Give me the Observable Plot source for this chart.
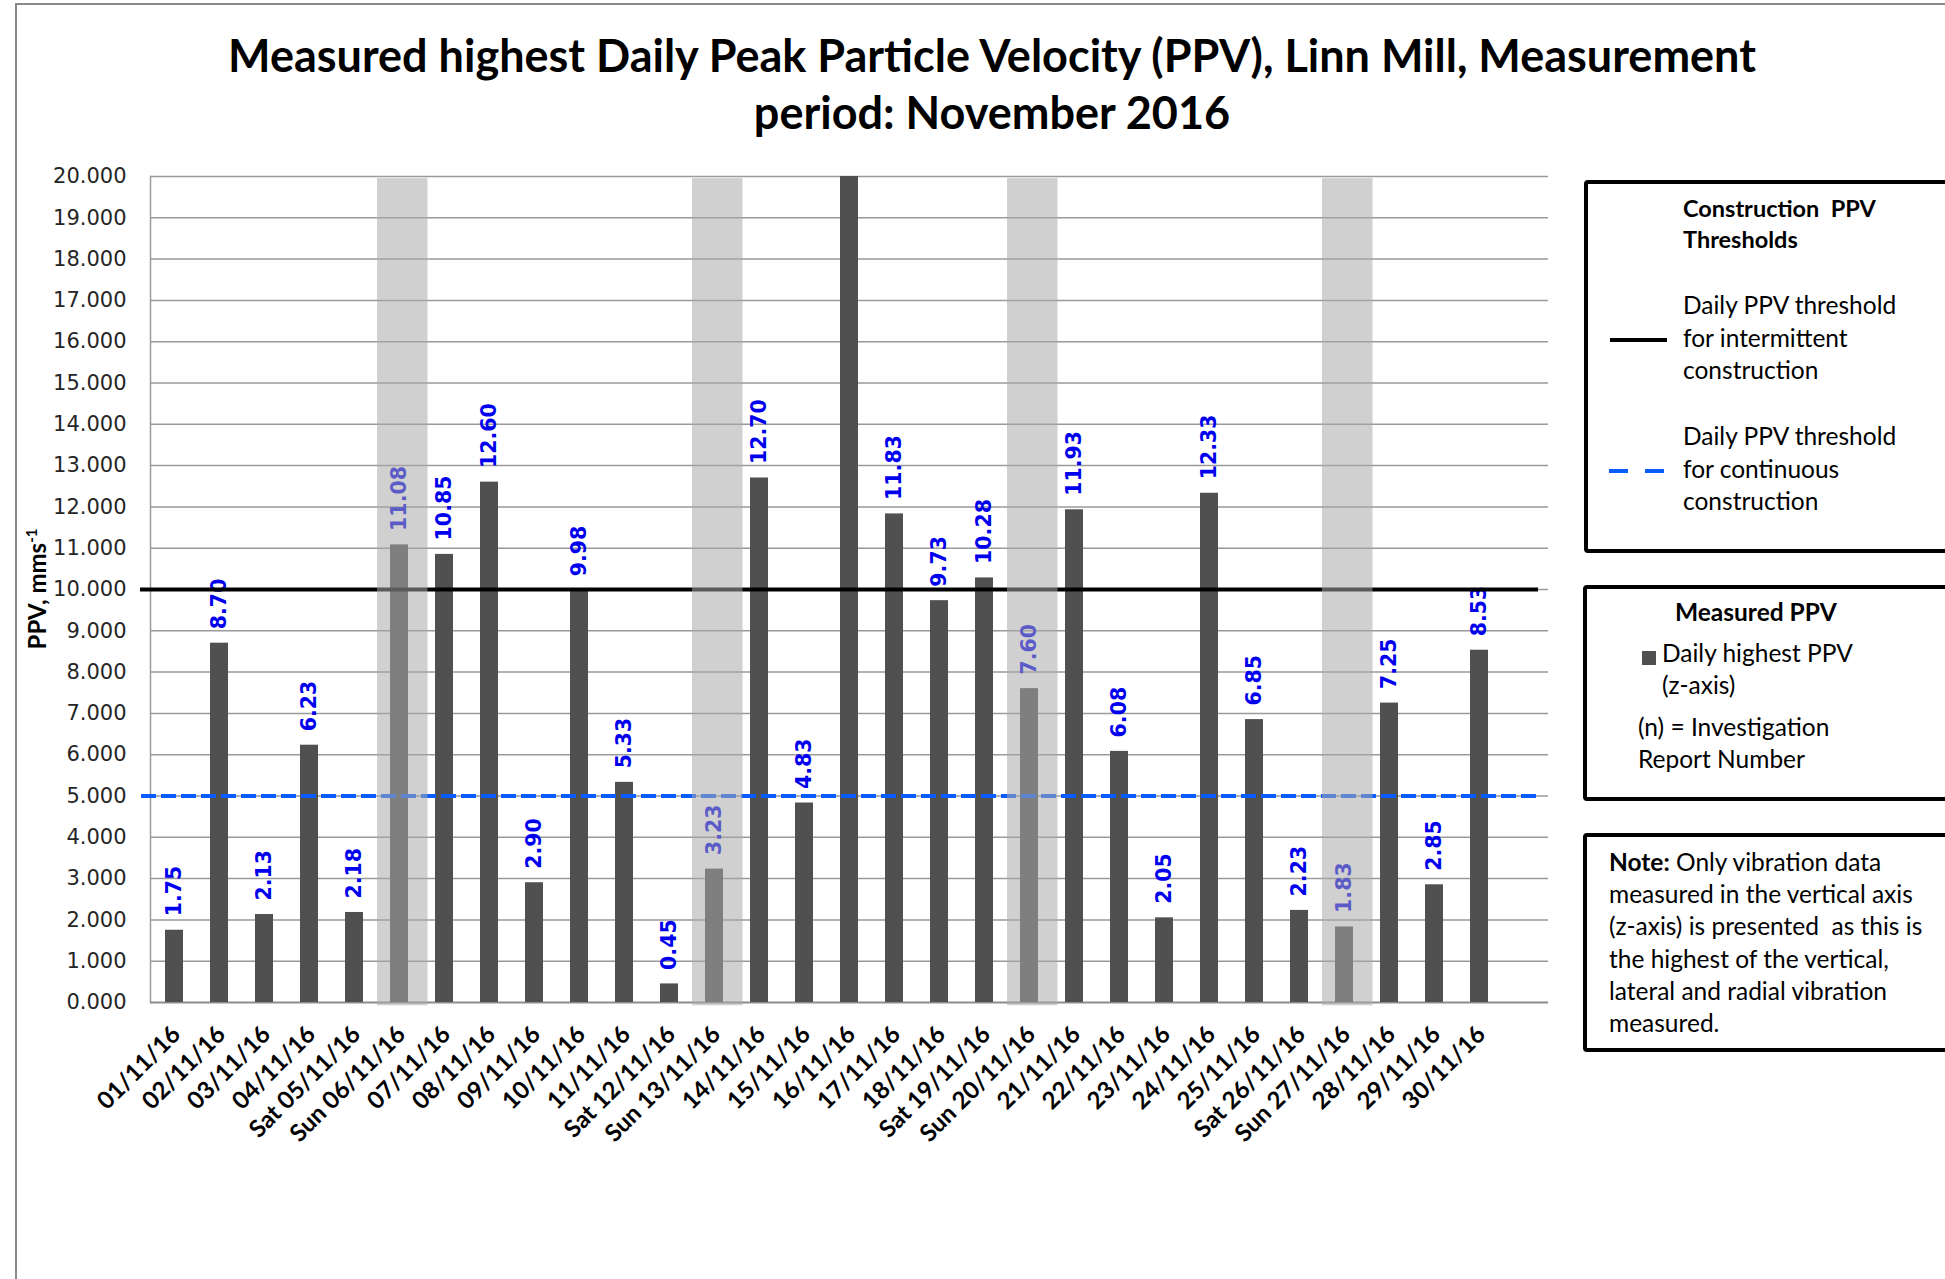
<!DOCTYPE html>
<html>
<head>
<meta charset="utf-8">
<script src="https://cdn.jsdelivr.net/npm/d3@7"></script>
<script src="https://cdn.jsdelivr.net/npm/@observablehq/plot@0.6"></script>
<style>
  html, body { margin: 0; padding: 0; background: #fff; overflow: hidden; }
  #page { position: relative; width: 1945px; height: 1279px; overflow: hidden; background: #fff; font-family: Lato, "Open Sans", sans-serif; color: #000; }
  .frame { position: absolute; left: 15px; top: 3px; width: 2100px; height: 1500px; border: 2px solid #8a8a8a; box-sizing: border-box; }
  .title { position: absolute; left: 0; top: 27px; width: 1984px; text-align: center; font-weight: bold; font-size: 45px; line-height: 57px; }
  #chart { position: absolute; left: 0; top: 0; }
  .ytitle { position: absolute; left: 37px; top: 589px; transform: translate(-50%, -50%) rotate(-90deg); white-space: nowrap; font-weight: bold; font-size: 24px; line-height: 26px; }
  .ytitle sup { font-size: 15px; vertical-align: 9px; line-height: 0; }
  .box { position: absolute; border: 4px solid #000; border-radius: 4px; box-sizing: border-box; width: 500px; }
  .txt { position: absolute; font-size: 24.5px; line-height: 32.5px; white-space: nowrap; }
  .b { font-weight: bold; }
  .swatch { position: absolute; }
</style>
</head>
<body>
<div id="page">
  <div class="frame"></div>
  <div class="title">Measured highest Daily Peak Particle Velocity (PPV), Linn Mill, Measurement<br>period: November 2016</div>
  <div id="chart"></div>
  <div class="ytitle">PPV, mms<sup>-1</sup></div>

  <div class="box" style="left:1584px; top:180px; height:373px;"></div>
  <div class="txt b" style="left:1683px; top:193px; line-height:31px; font-size:23.5px;">Construction&nbsp; PPV<br>Thresholds</div>
  <div class="txt" style="left:1683px; top:289px;">Daily PPV threshold<br>for intermittent<br>construction</div>
  <svg class="swatch" style="left:1606px; top:330px;" width="66" height="20"><line x1="4" x2="61" y1="10" y2="10" stroke="#000" stroke-width="4"/></svg>
  <div class="txt" style="left:1683px; top:420px;">Daily PPV threshold<br>for continuous<br>construction</div>
  <svg class="swatch" style="left:1606px; top:461px;" width="66" height="20"><line x1="3" x2="60" y1="10" y2="10" stroke="#0a5cff" stroke-width="4" stroke-dasharray="19,17"/></svg>

  <div class="box" style="left:1583px; top:585px; height:216px;"></div>
  <div class="txt b" style="left:1675px; top:596px;">Measured PPV</div>
  <svg class="swatch" style="left:1642px; top:651px;" width="14" height="14"><rect width="14" height="14" fill="#505050"/></svg>
  <div class="txt" style="left:1662px; top:637px; line-height:32px;">Daily highest PPV<br>(z-axis)</div>
  <div class="txt" style="left:1638px; top:711px; line-height:32px;">(n) = Investigation<br>Report Number</div>

  <div class="box" style="left:1583px; top:833px; height:219px;"></div>
  <div class="txt" style="left:1609px; top:846px; line-height:32.2px;"><span class="b">Note:</span> Only vibration data<br>measured in the vertical axis<br>(z-axis) is presented&nbsp; as this is<br>the highest of the vertical,<br>lateral and radial vibration<br>measured.</div>
</div>
<script>
// ---- data ----
const days = ["01/11/16","02/11/16","03/11/16","04/11/16","Sat 05/11/16","Sun 06/11/16","07/11/16","08/11/16","09/11/16","10/11/16",
  "11/11/16","Sat 12/11/16","Sun 13/11/16","14/11/16","15/11/16","16/11/16","17/11/16","18/11/16","Sat 19/11/16","Sun 20/11/16",
  "21/11/16","22/11/16","23/11/16","24/11/16","25/11/16","Sat 26/11/16","Sun 27/11/16","28/11/16","29/11/16","30/11/16"];
// 16/11/16 exceeds the axis maximum (bar clipped at 20, no label shown)
const ppv = [1.75,8.70,2.13,6.23,2.18,11.08,10.85,12.60,2.90,9.98,
  5.33,0.45,3.23,12.70,4.83,20.00,11.83,9.73,10.28,7.60,
  11.93,6.08,2.05,12.33,6.85,2.23,1.83,7.25,2.85,8.53];
const yTicks = [0,1,2,3,4,5,6,7,8,9,10,11,12,13,14,15,16,17,18,19,20];
const intermittentThreshold = [10];
const continuousThreshold = [5];
const yMax = 20;

const rows = days.map((d, i) => ({day: d, value: ppv[i]}));
const labeled = rows.filter(r => r.value < yMax);
const sundays = days.filter(d => d.startsWith("Sun"));

const chart = Plot.plot({
  width: 1560,
  height: 1240,
  marginLeft: 150,
  marginRight: 12,
  marginTop: 176,
  marginBottom: 238,
  style: {background: "transparent", fontFamily: "Lato, sans-serif", overflow: "visible"},
  x: {domain: [...days, ""], paddingInner: 0.6, paddingOuter: 0.3},
  y: {domain: [0, yMax]},
  marks: [
    Plot.gridY(yTicks.filter(t => t > 0), {stroke: "#9a9a9a", strokeOpacity: 1, strokeWidth: 1.5}),
    Plot.frame({anchor: "left", stroke: "#9a9a9a", strokeWidth: 1.5}),
    Plot.ruleY([0], {stroke: "#8c8c8c", strokeWidth: 2}),
    Plot.barY(rows, {x: "day", y: "value", fill: "#505050"}),
    Plot.text(labeled, {x: "day", y: "value", text: d => d.value.toFixed(2), rotate: -90, textAnchor: "start", lineAnchor: "middle",
      dy: -14, fill: "#0000ee", fontSize: 20.5, fontWeight: "bold", fontFamily: "DejaVu Sans"}),
    Plot.ruleY(continuousThreshold, {stroke: "#0a5cff", strokeWidth: 4, strokeDasharray: "15,5", insetLeft: -9, insetRight: 8}),
    Plot.ruleY(intermittentThreshold, {stroke: "#000", strokeWidth: 4, insetLeft: -10, insetRight: 10}),
    Plot.barY(sundays, {x: d => d, y1: -0.08, y2: 19.95, fill: "#a8a8a8", fillOpacity: 0.54, insetLeft: -13, insetRight: -19.5}),
    Plot.axisY({ticks: yTicks, tickFormat: d3.format(".3f"), tickSize: 0, tickPadding: 24, fontSize: 21,
      fontFamily: "DejaVu Sans", color: "#262626", label: null}),
    Plot.axisX({tickRotate: -45, tickSize: 0, tickPadding: 28, dx: 2, fontSize: 24, fontWeight: "bold",
      fontFamily: "Lato", color: "#000", label: null})
  ]
});
document.getElementById("chart").appendChild(chart);
</script>
</body>
</html>
